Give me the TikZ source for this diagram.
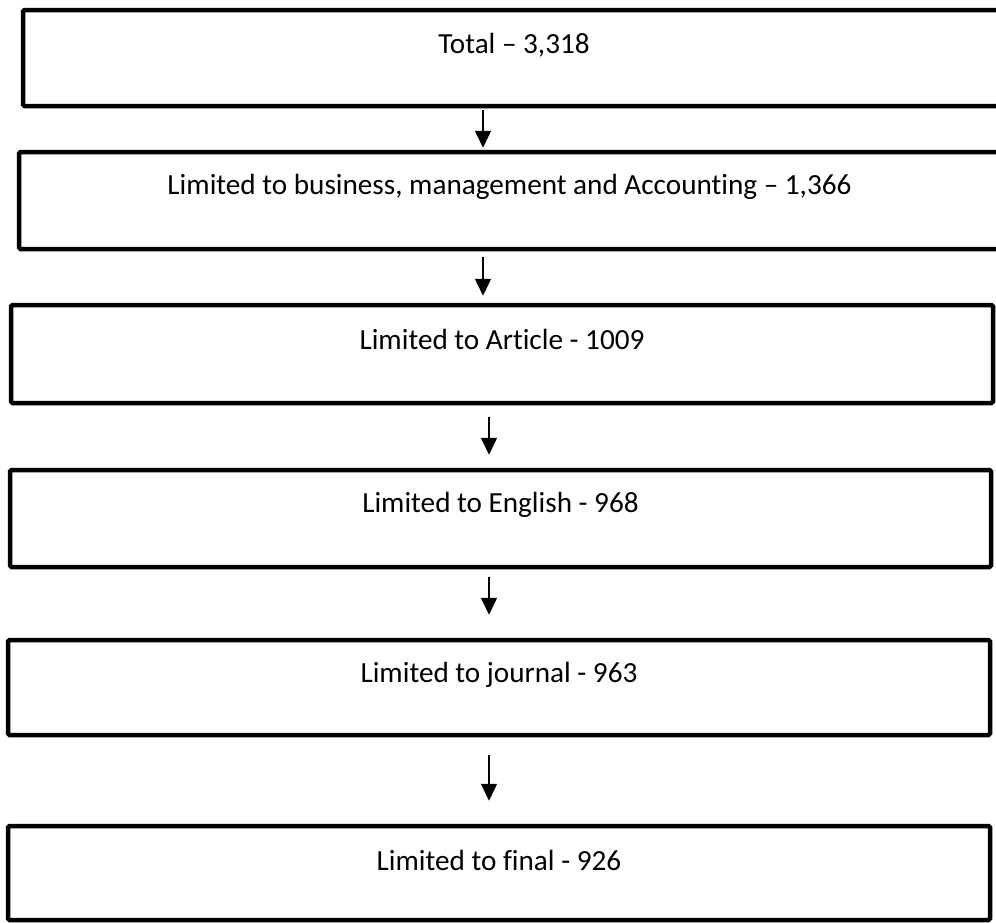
\documentclass[tikz,border=0pt]{standalone}
\usepackage{fontspec}
\setmainfont[Ligatures=NoCommon]{Carlito}
\usetikzlibrary{arrows.meta}
\begin{document}
\begin{tikzpicture}[x=1pt,y=-1pt,
  stepbox/.style={draw=black, line width=4.5pt, rounded corners=1.5pt, minimum width=982pt, inner sep=0pt, fill=white},
  boxtext/.style={font=\fontsize{29.2}{34}\selectfont, text=black},
  arr/.style={draw=black, line width=1.5pt, -{Triangle[length=17pt,width=16pt]}}]
\path[use as bounding box, clip] (0,0) rectangle (996,922);
\fill[white] (0,0) rectangle (996,922);
\node[stepbox, minimum height=96pt, label={[boxtext, anchor=center, yshift=-37pt]north:Total – 3,318}] (b1) at (514,58) {};
\node[stepbox, minimum height=97pt, minimum width=981pt, label={[boxtext, anchor=center, yshift=-37pt]north:Limited to business, management and Accounting – 1,366}] (b2) at (509.5,200.5) {};
\node[stepbox, minimum height=98pt, label={[boxtext, anchor=center, yshift=-37pt]north:Limited to Article - 1009}] (b3) at (502,354) {};
\node[stepbox, minimum height=97pt, minimum width=981pt, label={[boxtext, anchor=center, yshift=-37pt]north:Limited to English - 968}] (b4) at (500.5,518.5) {};
\node[stepbox, minimum height=95pt, label={[boxtext, anchor=center, yshift=-37pt]north:Limited to journal - 963}] (b5) at (499,687.5) {};
\node[stepbox, minimum height=94pt, label={[boxtext, anchor=center, yshift=-37pt]north:Limited to final - 926}] (b6) at (499,873) {};
\coordinate (ax1) at (483,0);
\coordinate (ax2) at (489,0);
\draw[arr, shorten <=2pt, shorten >=2pt] (b1.south -| ax1) -- (b2.north -| ax1);
\draw[arr, shorten <=6pt, shorten >=7pt] (b2.south -| ax1) -- (b3.north -| ax1);
\draw[arr, shorten <=12pt, shorten >=13pt] (b3.south -| ax2) -- (b4.north -| ax2);
\draw[arr, shorten <=8pt, shorten >=23pt] (b4.south -| ax2) -- (b5.north -| ax2);
\draw[arr, shorten <=18pt, shorten >=23pt] (b5.south -| ax2) -- (b6.north -| ax2);
\end{tikzpicture}
\end{document}
